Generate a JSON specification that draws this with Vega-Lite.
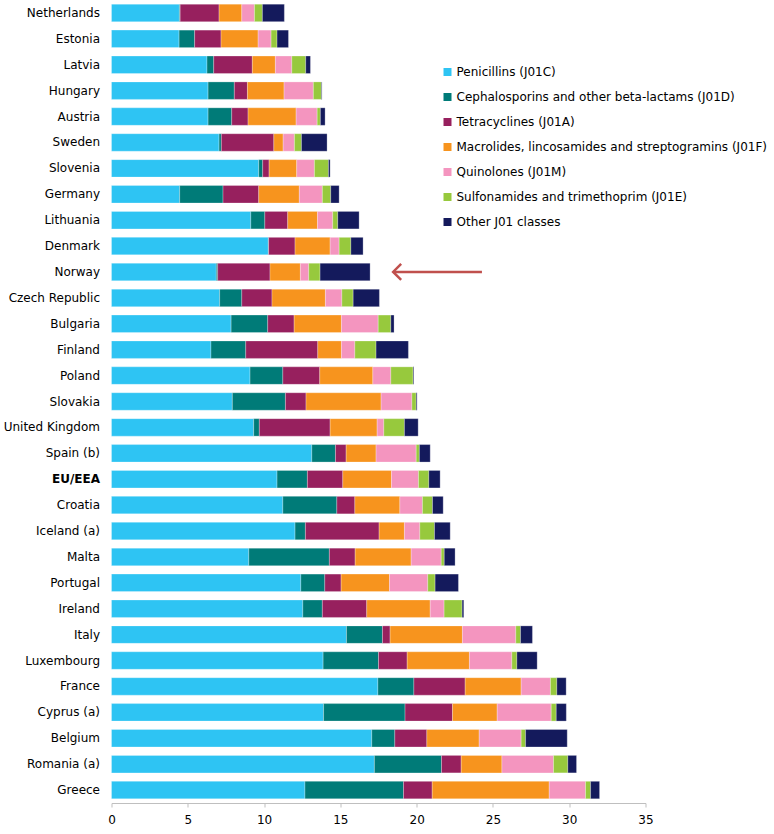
{
  "$schema": "https://vega.github.io/schema/vega-lite/v6.json",
  "width": 534,
  "height": 803,
  "autosize": {"type": "none"},
  "padding": {"left": 111.5, "top": 0, "right": 128.5, "bottom": 31},
  "background": "white",
  "config": {
    "view": {"stroke": null},
    "font": "DejaVu Sans",
    "axis": {"labelFont": "DejaVu Sans", "labelFontSize": 12, "labelColor": "#000000", "grid": false, "title": null}
  },
  "datasets": {
    "rates": [
      {"country": "Netherlands", "C": 4.45, "D": 0.05, "A": 2.55, "F": 1.49, "M": 0.83, "E": 0.52, "O": 1.44},
      {"country": "Estonia", "C": 4.43, "D": 1.02, "A": 1.73, "F": 2.43, "M": 0.85, "E": 0.39, "O": 0.75},
      {"country": "Latvia", "C": 6.26, "D": 0.44, "A": 2.53, "F": 1.51, "M": 1.08, "E": 0.91, "O": 0.31},
      {"country": "Hungary", "C": 6.33, "D": 1.72, "A": 0.86, "F": 2.40, "M": 1.92, "E": 0.53, "O": 0.04},
      {"country": "Austria", "C": 6.33, "D": 1.55, "A": 1.07, "F": 3.15, "M": 1.38, "E": 0.21, "O": 0.31},
      {"country": "Sweden", "C": 7.05, "D": 0.15, "A": 3.44, "F": 0.61, "M": 0.74, "E": 0.46, "O": 1.68},
      {"country": "Slovenia", "C": 9.65, "D": 0.26, "A": 0.42, "F": 1.81, "M": 1.16, "E": 0.92, "O": 0.11},
      {"country": "Germany", "C": 4.47, "D": 2.84, "A": 2.34, "F": 2.66, "M": 1.51, "E": 0.55, "O": 0.55},
      {"country": "Lithuania", "C": 9.13, "D": 0.92, "A": 1.50, "F": 1.95, "M": 1.00, "E": 0.33, "O": 1.40},
      {"country": "Denmark", "C": 10.28, "D": 0.02, "A": 1.73, "F": 2.30, "M": 0.59, "E": 0.77, "O": 0.80},
      {"country": "Norway", "C": 6.87, "D": 0.09, "A": 3.43, "F": 1.99, "M": 0.55, "E": 0.74, "O": 3.28},
      {"country": "Czech Republic", "C": 7.09, "D": 1.45, "A": 1.98, "F": 3.50, "M": 1.08, "E": 0.74, "O": 1.72},
      {"country": "Bulgaria", "C": 7.84, "D": 2.40, "A": 1.73, "F": 3.10, "M": 2.41, "E": 0.83, "O": 0.21},
      {"country": "Finland", "C": 6.52, "D": 2.28, "A": 4.72, "F": 1.55, "M": 0.88, "E": 1.39, "O": 2.12},
      {"country": "Poland", "C": 9.08, "D": 2.15, "A": 2.42, "F": 3.48, "M": 1.18, "E": 1.46, "O": 0.05},
      {"country": "Slovakia", "C": 7.92, "D": 3.48, "A": 1.35, "F": 4.92, "M": 2.02, "E": 0.28, "O": 0.06},
      {"country": "United Kingdom", "C": 9.32, "D": 0.37, "A": 4.64, "F": 3.08, "M": 0.44, "E": 1.35, "O": 0.90},
      {"country": "Spain (b)", "C": 13.13, "D": 1.55, "A": 0.70, "F": 1.96, "M": 2.63, "E": 0.21, "O": 0.71},
      {"country": "EU/EEA", "C": 10.85, "D": 1.99, "A": 2.32, "F": 3.19, "M": 1.77, "E": 0.68, "O": 0.74},
      {"country": "Croatia", "C": 11.23, "D": 3.54, "A": 1.18, "F": 2.95, "M": 1.48, "E": 0.66, "O": 0.70},
      {"country": "Iceland (a)", "C": 12.03, "D": 0.68, "A": 4.83, "F": 1.66, "M": 1.01, "E": 0.96, "O": 1.03},
      {"country": "Malta", "C": 9.00, "D": 5.28, "A": 1.69, "F": 3.67, "M": 1.97, "E": 0.20, "O": 0.71},
      {"country": "Portugal", "C": 12.41, "D": 1.57, "A": 1.07, "F": 3.17, "M": 2.51, "E": 0.48, "O": 1.53},
      {"country": "Ireland", "C": 12.54, "D": 1.28, "A": 2.91, "F": 4.16, "M": 0.91, "E": 1.18, "O": 0.11},
      {"country": "Italy", "C": 15.40, "D": 2.36, "A": 0.50, "F": 4.74, "M": 3.50, "E": 0.31, "O": 0.78},
      {"country": "Luxembourg", "C": 13.87, "D": 3.63, "A": 1.88, "F": 4.08, "M": 2.78, "E": 0.33, "O": 1.33},
      {"country": "France", "C": 17.46, "D": 2.36, "A": 3.36, "F": 3.67, "M": 1.92, "E": 0.42, "O": 0.61},
      {"country": "Cyprus (a)", "C": 13.90, "D": 5.34, "A": 3.11, "F": 2.93, "M": 3.54, "E": 0.33, "O": 0.66},
      {"country": "Belgium", "C": 17.06, "D": 1.51, "A": 2.10, "F": 3.43, "M": 2.75, "E": 0.29, "O": 2.73},
      {"country": "Romania (a)", "C": 17.23, "D": 4.40, "A": 1.29, "F": 2.67, "M": 3.38, "E": 0.94, "O": 0.57},
      {"country": "Greece", "C": 12.68, "D": 6.46, "A": 1.88, "F": 7.67, "M": 2.38, "E": 0.33, "O": 0.59}
    ],
    "arrow": [
      {"country": "Norway", "start": 18.46, "end": 24.28}
    ]
  },
  "encoding": {
    "y": {
      "field": "country",
      "type": "nominal",
      "scale": {
        "domain": ["Netherlands", "Estonia", "Latvia", "Hungary", "Austria", "Sweden", "Slovenia", "Germany", "Lithuania", "Denmark", "Norway", "Czech Republic", "Bulgaria", "Finland", "Poland", "Slovakia", "United Kingdom", "Spain (b)", "EU/EEA", "Croatia", "Iceland (a)", "Malta", "Portugal", "Ireland", "Italy", "Luxembourg", "France", "Cyprus (a)", "Belgium", "Romania (a)", "Greece"],
        "paddingInner": 0.325,
        "paddingOuter": 0.1625
      },
      "axis": {
        "domain": false,
        "ticks": false,
        "tickSize": 0,
        "labelPadding": 12,
        "labelFontWeight": {"condition": {"test": "datum.value === 'EU/EEA'", "value": "bold"}, "value": "normal"}
      }
    }
  },
  "layer": [
    {
      "data": {"name": "rates"},
      "transform": [
        {"fold": ["C", "D", "A", "F", "M", "E", "O"], "as": ["key", "value"]},
        {
          "lookup": "key",
          "from": {
            "data": {"values": [
              {"key": "C", "cls": "Penicillins (J01C)", "ord": 1},
              {"key": "D", "cls": "Cephalosporins and other beta-lactams (J01D)", "ord": 2},
              {"key": "A", "cls": "Tetracyclines (J01A)", "ord": 3},
              {"key": "F", "cls": "Macrolides, lincosamides and streptogramins (J01F)", "ord": 4},
              {"key": "M", "cls": "Quinolones (J01M)", "ord": 5},
              {"key": "E", "cls": "Sulfonamides and trimethoprim (J01E)", "ord": 6},
              {"key": "O", "cls": "Other J01 classes", "ord": 7}
            ]},
            "key": "key",
            "fields": ["cls", "ord"]
          }
        }
      ],
      "mark": {"type": "bar", "stroke": "white", "strokeWidth": 0.6, "strokeOpacity": 0.45},
      "encoding": {
        "x": {
          "field": "value",
          "type": "quantitative",
          "stack": "zero",
          "scale": {"domain": [0, 35], "nice": false, "zero": true},
          "axis": {
            "values": [0, 5, 10, 15, 20, 25, 30, 35],
            "domainColor": "#bfbfbf",
            "tickColor": "#bfbfbf",
            "tickSize": 4,
            "labelPadding": 7,
            "labelFlush": false
          }
        },
        "color": {
          "field": "cls",
          "type": "nominal",
          "scale": {
            "domain": ["Penicillins (J01C)", "Cephalosporins and other beta-lactams (J01D)", "Tetracyclines (J01A)", "Macrolides, lincosamides and streptogramins (J01F)", "Quinolones (J01M)", "Sulfonamides and trimethoprim (J01E)", "Other J01 classes"],
            "range": ["#2EC4F3", "#007B78", "#97205E", "#F7941E", "#F495BF", "#97C93D", "#141A5C"]
          },
          "legend": {
            "title": null,
            "orient": "none",
            "legendX": 330,
            "legendY": 66,
            "symbolType": "square",
            "symbolSize": 64,
            "symbolStrokeWidth": 0,
            "labelFont": "DejaVu Sans",
            "labelFontSize": 12,
            "labelColor": "#000000",
            "labelOffset": 3,
            "labelLimit": 400,
            "rowPadding": 13
          }
        },
        "order": {"field": "ord", "type": "quantitative"}
      }
    },
    {
      "data": {"name": "arrow"},
      "mark": {"type": "rule", "color": "#C0504D", "strokeWidth": 2.5},
      "encoding": {
        "x": {"field": "start", "type": "quantitative"},
        "x2": {"field": "end"}
      }
    },
    {
      "data": {"name": "arrow"},
      "mark": {"type": "point", "shape": "M1,-1L0,0L1,1", "size": 256, "filled": false, "color": "#C0504D", "strokeWidth": 2.5, "opacity": 1},
      "encoding": {
        "x": {"field": "start", "type": "quantitative"}
      }
    }
  ]
}
